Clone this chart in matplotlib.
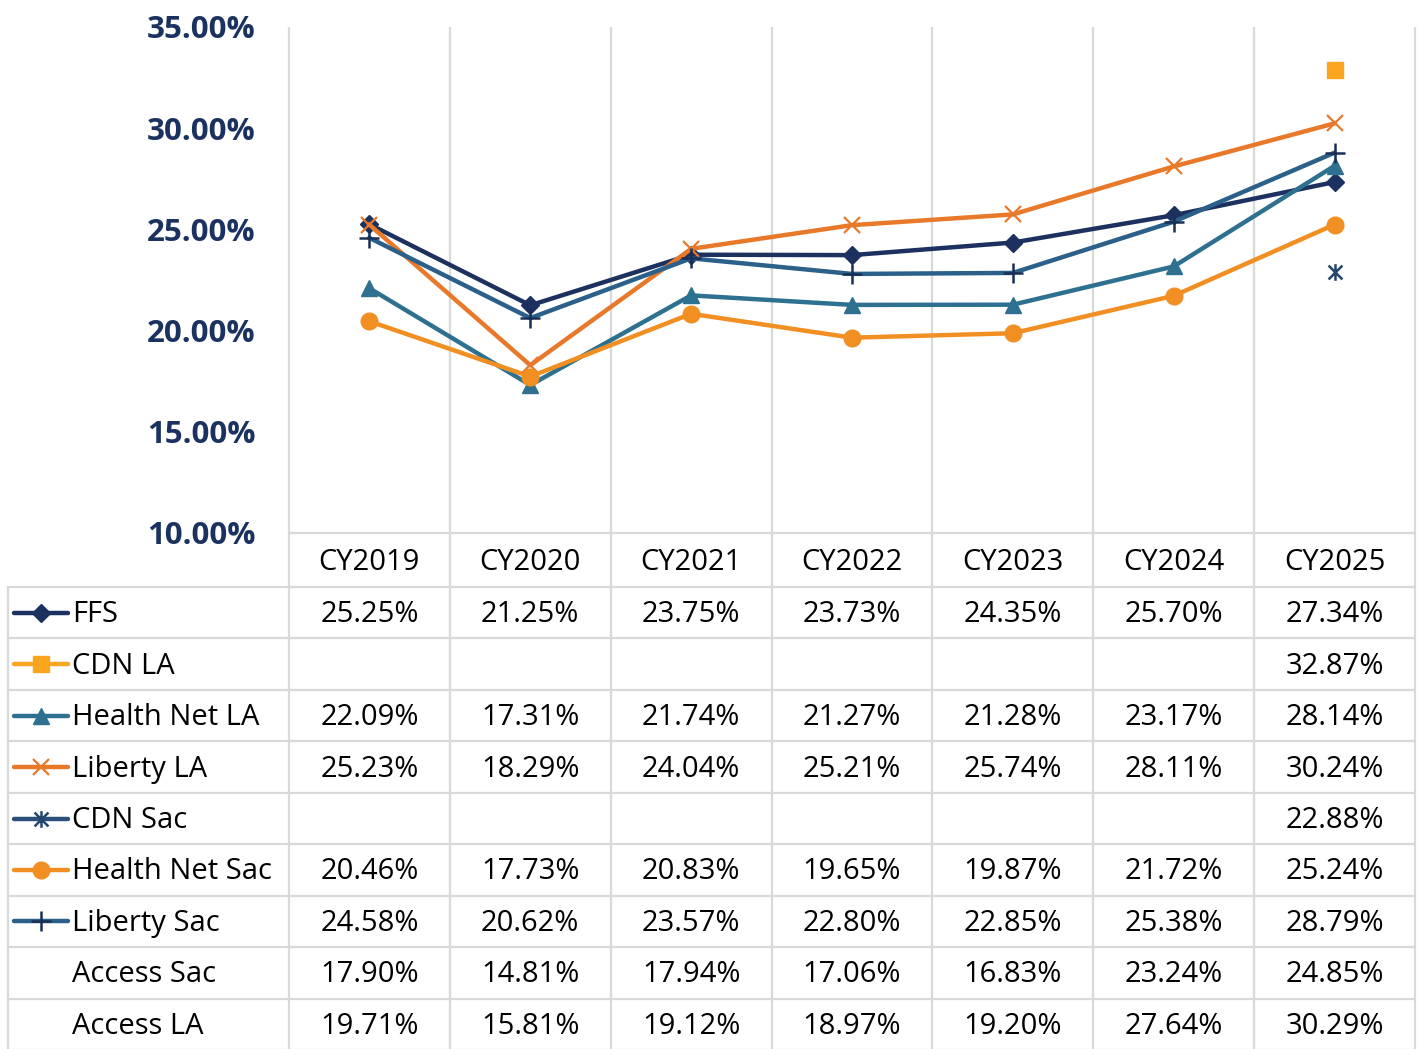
import matplotlib
matplotlib.use("Agg")
import matplotlib.pyplot as plt
import numpy as np
from matplotlib.path import Path
from matplotlib.lines import Line2D

plt.rcParams['font.family'] = ['Open Sans', 'DejaVu Sans']

years = ["CY2019", "CY2020", "CY2021", "CY2022", "CY2023", "CY2024", "CY2025"]
series_names = ["FFS", "CDN LA", "Health Net LA", "Liberty LA", "CDN Sac",
                "Health Net Sac", "Liberty Sac", "Access Sac", "Access LA"]
ffs = [25.25, 21.25, 23.75, 23.73, 24.35, 25.70, 27.34]
cdn_la = [None, None, None, None, None, None, 32.87]
hn_la = [22.09, 17.31, 21.74, 21.27, 21.28, 23.17, 28.14]
lib_la = [25.23, 18.29, 24.04, 25.21, 25.74, 28.11, 30.24]
cdn_sac = [None, None, None, None, None, None, 22.88]
hn_sac = [20.46, 17.73, 20.83, 19.65, 19.87, 21.72, 25.24]
lib_sac = [24.58, 20.62, 23.57, 22.80, 22.85, 25.38, 28.79]
access_sac = [17.90, 14.81, 17.94, 17.06, 16.83, 23.24, 24.85]
access_la = [19.71, 15.81, 19.12, 18.97, 19.20, 27.64, 30.29]
all_values = [ffs, cdn_la, hn_la, lib_la, cdn_sac, hn_sac, lib_sac, access_sac, access_la]
plotted = [True, True, True, True, True, True, True, False, False]
y_ticks = [10, 15, 20, 25, 30, 35]

# asterisk marker (x + vertical)
ast = Path([(-1, -1), (1, 1), (-1, 1), (1, -1), (0, -1.2), (0, 1.2)],
           [Path.MOVETO, Path.LINETO, Path.MOVETO, Path.LINETO, Path.MOVETO, Path.LINETO])

styles = [
    dict(color="#1C3160", marker="D", ms=9, mfc="#1C3160", mec="#1C3160", mew=1),
    dict(color="#F9A51F", marker="s", ms=11, mfc="#F9A51F", mec="#F9A51F", mew=1),
    dict(color="#2D7090", marker="^", ms=12, mfc="#2D7090", mec="#2D7090", mew=1),
    dict(color="#E8792A", marker="x", ms=12, mfc="#E8792A", mec="#E8792A", mew=1.6),
    dict(color="#2B4F7A", marker=ast, ms=12, mfc="none", mec="#24466E", mew=1.8),
    dict(color="#F18F22", marker="o", ms=12, mfc="#F18F22", mec="#F18F22", mew=1),
    dict(color="#2A6089", marker="+", ms=14, mfc="#1A2F55", mec="#1A2F55", mew=1.8),
]

W, H = 1418, 1049
fig = plt.figure(figsize=(W / 100, H / 100), dpi=100)

# overlay axes in pixel coordinates (grid / table)
ov = fig.add_axes([0, 0, 1, 1], zorder=0)
ov.set_xlim(0, W)
ov.set_ylim(H, 0)
ov.axis("off")

x_left = 289
x_right = 1415
col_w = (x_right - x_left) / 7
y_top = 27
y_axis = 533
header_bot = 587
row_h = (1050 - header_bot) / 9
tbl_left = 8
gcol = "#D9D9D9"
glw = 1.6

# vertical lines
for i in range(8):
    xx = x_left + i * col_w
    ov.plot([xx, xx], [y_top, H], color=gcol, lw=glw, solid_capstyle="butt")
ov.plot([tbl_left, tbl_left], [header_bot, H], color=gcol, lw=glw)
# horizontal lines
ov.plot([x_left, x_right], [y_axis, y_axis], color=gcol, lw=glw)
for r in range(10):
    yy = header_bot + r * row_h
    ov.plot([tbl_left, x_right], [yy, yy], color=gcol, lw=glw)

fs = 21
# header
for i, yr in enumerate(years):
    ov.text(x_left + (i + 0.5) * col_w, (y_axis + header_bot) / 2 + 2, yr,
            ha="center", va="center", fontsize=fs, color="black")

# rows
for r, (name, vals) in enumerate(zip(series_names, all_values)):
    yc = header_bot + (r + 0.5) * row_h + 2
    ov.text(72, yc, name, ha="left", va="center", fontsize=fs, color="black")
    for i, v in enumerate(vals):
        if v is not None:
            ov.text(x_left + (i + 0.5) * col_w, yc, f"{v:.2f}%",
                    ha="center", va="center", fontsize=fs, color="black")
    if r < len(styles):
        st = styles[r]
        ov.add_line(Line2D([14, 68], [yc - 2, yc - 2], color=st["color"], lw=3.2,
                           solid_capstyle="round"))
        ov.add_line(Line2D([41], [yc - 2], marker=st["marker"], ms=st["ms"],
                           mfc=st["mfc"], mec=st["mec"], mew=st["mew"], ls="none"))

# main plot
ax = fig.add_axes([x_left / W, 1 - y_axis / H, (x_right - x_left) / W, (y_axis - y_top) / H],
                  zorder=1)
ax.patch.set_alpha(0)
ax.set_xlim(-0.5, 6.5)
ax.set_ylim(10, 35)
for s in ax.spines.values():
    s.set_visible(False)
ax.set_xticks([])
ax.set_yticks(y_ticks)
ax.set_yticklabels([f"{t:.2f}%" for t in y_ticks], fontsize=22.5, fontweight="bold",
                   color="#1B3260")
ax.tick_params(axis="y", length=0, pad=24)

x = np.arange(len(years))
for k, (vals, st) in enumerate(zip(all_values, styles)):
    if not plotted[k]:
        continue
    yv = np.array([np.nan if v is None else v for v in vals], dtype=float)
    ax.plot(x, yv, color=st["color"], lw=3.2, marker=st["marker"], ms=st["ms"],
            mfc=st["mfc"], mec=st["mec"], mew=st["mew"], clip_on=False, zorder=2 + k)

fig.savefig("out.png", dpi=100)
